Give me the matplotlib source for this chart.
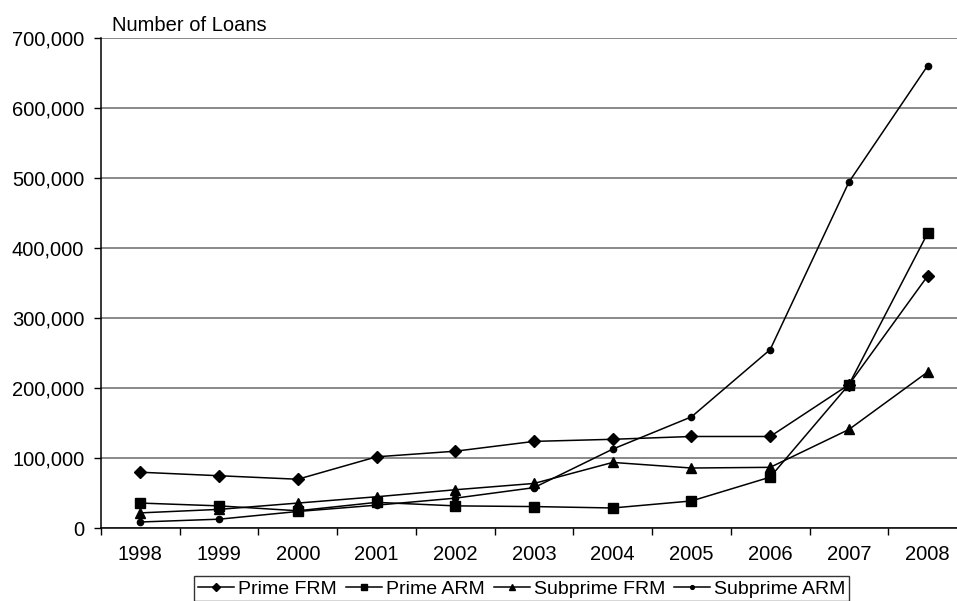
import matplotlib
matplotlib.use("Agg")
import matplotlib.pyplot as plt
from matplotlib.ticker import FuncFormatter, FixedLocator

plt.rcParams['font.family'] = ['Liberation Sans', 'DejaVu Sans']

years = ['1998', '1999', '2000', '2001', '2002', '2003', '2004', '2005', '2006', '2007', '2008']
prime_frm = [80000, 75000, 70000, 102000, 110000, 124000, 127000, 131000, 131000, 205000, 360000]
prime_arm = [36000, 32000, 25000, 37000, 32000, 31000, 29000, 39000, 73000, 205000, 421000]
subprime_frm = [22000, 27000, 36000, 45000, 55000, 64000, 94000, 86000, 87000, 141000, 223000]
subprime_arm = [9000, 13000, 24000, 33000, 43000, 58000, 113000, 159000, 255000, 494000, 660000]
series_names = ['Prime FRM', 'Prime ARM', 'Subprime FRM', 'Subprime ARM']
y_ticks = [0, 100000, 200000, 300000, 400000, 500000, 600000, 700000]

W, H = 957, 601
fig = plt.figure(figsize=(W / 100, H / 100), dpi=100)
ax = fig.add_axes([101 / W, 1 - 528.3 / H, 1 - 101 / W, (528.3 - 37.7) / H])

x = list(range(len(years)))
styles = [('D', 6.5), ('s', 7), ('^', 7.5), ('o', 4.5)]
for vals, name, (m, ms) in zip([prime_frm, prime_arm, subprime_frm, subprime_arm], series_names, styles):
    ax.plot(x, vals, color='black', lw=1.1, marker=m, markersize=ms,
            markerfacecolor='black', markeredgecolor='black', label=name, zorder=3)

ax.set_ylim(0, 700000)
ax.set_xlim(-0.5, 10.5 - 10 / 78.7)
ax.set_yticks(y_ticks)
ax.yaxis.set_major_formatter(FuncFormatter(lambda v, p: f"{int(v):,}"))
ax.grid(axis='y', color='#808080', lw=1.3, zorder=0)
ax.set_axisbelow(True)

ax.xaxis.set_major_locator(FixedLocator([i + 0.5 for i in range(-1, 11)]))
ax.xaxis.set_major_formatter(FuncFormatter(lambda v, p: ''))
ax.xaxis.set_minor_locator(FixedLocator(x))
ax.set_xticklabels(years, minor=True)
ax.tick_params(axis='x', which='major', length=5, width=1, direction='out', color='black')
ax.tick_params(axis='x', which='minor', length=0, pad=12, labelsize=14.5)
ax.tick_params(axis='y', length=5, width=1, direction='out', pad=7, labelsize=14.5)

for s in ['top', 'right']:
    ax.spines[s].set_visible(False)
for s in ['left', 'bottom']:
    ax.spines[s].set_color('black')
    ax.spines[s].set_linewidth(1.1)

fig.text(112 / W, 1 - 31 / H, 'Number of Loans', fontsize=14.5, ha='left', va='baseline')

leg = fig.legend(loc='upper left', bbox_to_anchor=(194 / W, 1 - 576 / H), ncol=4,
                 fontsize=14, frameon=True, fancybox=False, edgecolor='black',
                 handlelength=1.85, handletextpad=0.2, columnspacing=0.48,
                 borderpad=0.2, borderaxespad=0, markerscale=0.6)
leg.get_frame().set_linewidth(1.0)

fig.savefig('out.png', dpi=100)
